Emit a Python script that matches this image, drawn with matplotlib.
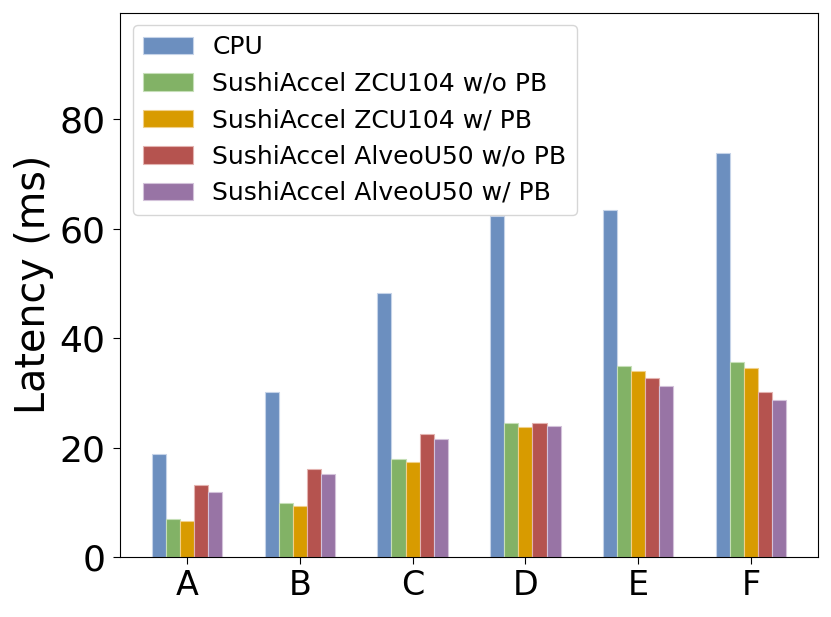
import numpy as np
import matplotlib
matplotlib.use("Agg")
import matplotlib.pyplot as plt

categories = ["A", "B", "C", "D", "E", "F"]
series_names = ["CPU",
                "SushiAccel ZCU104 w/o PB",
                "SushiAccel ZCU104 w/ PB",
                "SushiAccel AlveoU50 w/o PB",
                "SushiAccel AlveoU50 w/ PB"]
cpu = [18.8, 30.1, 48.3, 62.3, 63.5, 73.9]
zcu_no_pb = [7.0, 9.8, 17.9, 24.5, 34.9, 35.6]
zcu_pb = [6.6, 9.4, 17.4, 23.7, 33.9, 34.6]
alveo_no_pb = [13.1, 16.0, 22.4, 24.4, 32.7, 30.2]
alveo_pb = [11.9, 15.1, 21.6, 23.9, 31.2, 28.6]

colors = ["#6c8fbf", "#82b266", "#d89b00", "#b5534f", "#9874a5"]
edges = ["#c5d3e8", "#c6dfb8", "#f0d08a", "#e3b3b0", "#d3c2da"]

fig = plt.figure(figsize=(8.31, 6.17), dpi=100)
ax = fig.add_axes([120/831, 1 - 557/617, (818-120)/831, (557-12.5)/617])

x = np.arange(len(categories))
w = 0.125
data = [cpu, zcu_no_pb, zcu_pb, alveo_no_pb, alveo_pb]
for i, vals in enumerate(data):
    ax.bar(x + (i - 2) * w, vals, w, color=colors[i], edgecolor=edges[i],
           linewidth=0.8, label=series_names[i])

ax.set_xticks(x)
ax.set_xticklabels(categories, fontsize=24)
ax.set_yticks([0, 20, 40, 60, 80])
ax.tick_params(axis='y', labelsize=26, length=5, pad=5.5)
ax.tick_params(axis='x', length=5)
ax.set_ylim(0, 99.5)
ax.set_ylabel("Latency (ms)", fontsize=28.5, labelpad=4)
ax.legend(loc="upper left", fontsize=18)
plt.savefig("out.png", dpi=100)
